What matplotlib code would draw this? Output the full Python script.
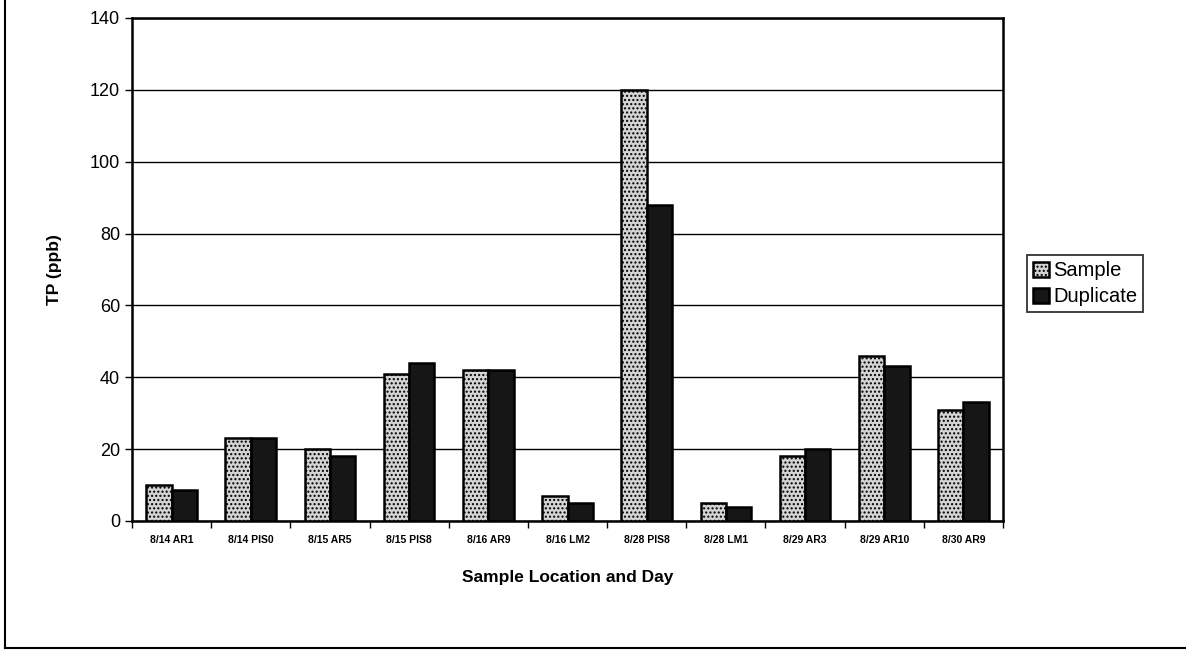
import numpy as np
import matplotlib.pyplot as plt
from matplotlib.lines import Line2D

plt.rcParams['font.family'] = ['Liberation Sans', 'DejaVu Sans']
plt.rcParams['hatch.color'] = '#7a7a7a'

# TP results for field samples and their duplicates
sites = ['8/14 AR1', '8/14 PIS0', '8/15 AR5', '8/15 PIS8', '8/16 AR9',
         '8/16 LM2', '8/28 PIS8', '8/28 LM1', '8/29 AR3', '8/29 AR10',
         '8/30 AR9']
sample = [10, 23, 20, 41, 42, 7, 120, 5, 18, 46, 31]
duplicate = [8.5, 23, 18, 44, 42, 5, 88, 4, 20, 43, 33]

fig = plt.figure(figsize=(11.86, 6.51), dpi=100)
ax = fig.add_axes([0.1113, 0.1997, 0.7344, 0.7727])

x = np.arange(len(sites))
w = 0.32
ax.bar(x - w / 2, sample, w, color='#d4d4d4', edgecolor='black',
       linewidth=1.8, hatch='....', label='Sample', zorder=3)
ax.bar(x + w / 2, duplicate, w, color='#161616', edgecolor='black',
       linewidth=1.8, label='Duplicate', zorder=3)

ax.set_xlim(-0.5, len(sites) - 0.5)
ax.set_ylim(0, 140)
ax.set_yticks(range(0, 141, 20))
ax.grid(axis='y', color='black', linewidth=1.0, zorder=0)

# category ticks sit between the groups
ax.set_xticks(x)
ax.set_xticklabels(sites, fontsize=7.5, fontweight='bold')
ax.set_xticks(np.arange(-0.5, len(sites), 1), minor=True)
ax.tick_params(axis='x', which='major', length=0, pad=10)
ax.tick_params(axis='x', which='minor', length=5, width=1, direction='out')
ax.tick_params(axis='y', labelsize=13, length=5, width=1, direction='out')
for s in ax.spines.values():
    s.set_linewidth(1.8)

ax.set_xlabel('Sample Location and Day', fontsize=12.5, fontweight='bold',
              labelpad=18)
ax.set_ylabel('TP (ppb)', fontsize=12.5, fontweight='bold', labelpad=20)

leg = fig.legend(loc='center left', bbox_to_anchor=(0.866, 0.564),
                 fontsize=14.5, frameon=True, fancybox=False,
                 handlelength=0.8, handleheight=0.8, handletextpad=0.2,
                 borderpad=0.3, labelspacing=0.35, borderaxespad=0)
leg.get_frame().set_edgecolor('black')
leg.get_frame().set_linewidth(1.3)

# outer chart border
fig.add_artist(Line2D([0.0045, 0.0045], [0.0046, 1.0], color='black',
                      linewidth=1.5, transform=fig.transFigure))
fig.add_artist(Line2D([0.0045, 1.0], [0.0046, 0.0046], color='black',
                      linewidth=1.5, transform=fig.transFigure))

fig.savefig('out.png', dpi=100)
